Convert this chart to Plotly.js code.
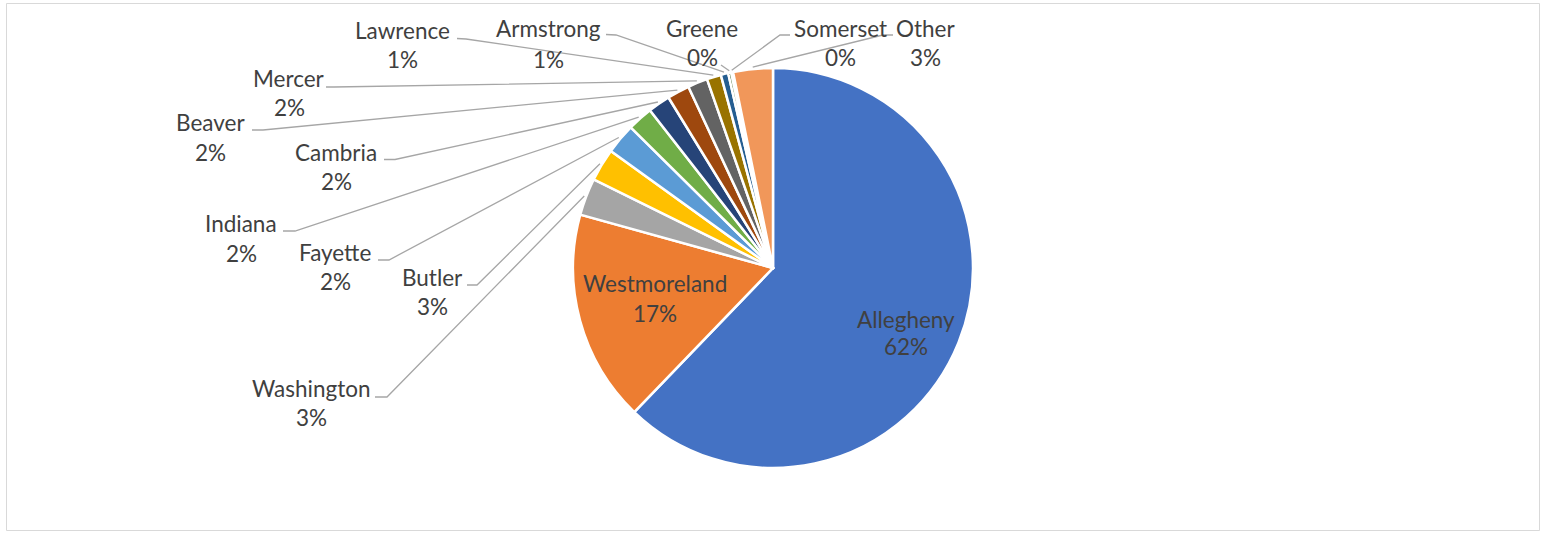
<!DOCTYPE html>
<html><head><meta charset="utf-8">
<script src="https://cdn.plot.ly/plotly-3.0.1.min.js"></script>
<style>html,body{margin:0;padding:0;background:#fff}#chart{width:1546px;height:533px}</style>
</head><body><div id="chart"></div>
<script>
// ---- data ----
const counties = ["Allegheny","Westmoreland","Washington","Butler","Fayette","Indiana","Cambria","Beaver","Mercer","Lawrence","Armstrong","Greene","Somerset","Other"];
const shares = [62.2, 17.1, 3.0, 2.65, 2.45, 2.05, 1.8, 1.8, 1.6, 1.15, 0.6, 0.25, 0.15, 3.2];
const sliceColors = ["#4472C4","#ED7D31","#A5A5A5","#FFC000","#5B9BD5","#70AD47","#264478","#9E480E","#636363","#997300","#255E91","#43682B","#698ED0","#F1975A"];

// ---- layout (pixels) ----
const W = 1546, H = 533;
const CX = 773, CY = 268, R = 200;
// label text centres: [x, nameY, pctY]; leader: points from label to slice
const labelPos = {
  Allegheny:    {x: 906, ny: 319, py: 346, inside: true},
  Westmoreland: {x: 655, ny: 283, py: 313, inside: true},
  Washington:   {x: 311, ny: 388, py: 417, lead: [[375,397],[387,397]]},
  Butler:       {x: 432, ny: 277, py: 306, lead: [[467,285],[477,285]]},
  Fayette:      {x: 335, ny: 252, py: 281, lead: [[378,260],[389,260]]},
  Indiana:      {x: 241, ny: 223, py: 253, lead: [[283,231],[295,231]]},
  Cambria:      {x: 336, ny: 152, py: 181, lead: [[384,159.5],[395,159.5]]},
  Beaver:       {x: 211, ny: 122, py: 152, lead: [[252,130],[263,130]]},
  Mercer:       {x: 289, ny: 79,  py: 108, lead: [[326,87],[334,87]]},
  Lawrence:     {x: 403, ny: 30,  py: 60,  lead: [[457,38.5],[466,39]]},
  Armstrong:    {x: 548, ny: 29,  py: 59,  lead: [[606,34.5],[616,35]]},
  Greene:       {x: 702, ny: 29,  py: 58,  lead: [[721,65]]},
  Somerset:     {x: 840, ny: 29,  py: 58,  lead: [[790,35],[780,35]]},
  Other:        {x: 925, ny: 29,  py: 58,  lead: [[893,35],[883,35]]}
};

const px = x => x / W;
const py = y => 1 - y / H;
const textFont = {family: "Lato, 'Open Sans', sans-serif", size: 22.5, color: "#404040"};

const total = shares.reduce((a, b) => a + b, 0);
const annotations = [];
const shapes = [{
  type: "rect", xref: "paper", yref: "paper",
  x0: px(6.5), x1: px(1539.5), y0: py(530.5), y1: py(3.5),
  line: {color: "#D9D9D9", width: 1}
}];

let cum = 0;
counties.forEach((name, i) => {
  const frac = shares[i] / total;
  const mid = (cum + frac / 2) * 2 * Math.PI;
  cum += frac;
  const pos = labelPos[name];
  const pct = Math.round(frac * 100) + "%";
  annotations.push({xref: "paper", yref: "paper", x: px(pos.x), y: py(pos.ny), text: name,
    showarrow: false, xanchor: "center", yanchor: "middle", font: textFont});
  annotations.push({xref: "paper", yref: "paper", x: px(pos.x), y: py(pos.py), text: pct,
    showarrow: false, xanchor: "center", yanchor: "middle", font: textFont});
  if (!pos.inside) {
    const ex = CX + (R + 2) * Math.sin(mid);
    const ey = CY - (R + 2) * Math.cos(mid);
    const pts = pos.lead.concat([[ex, ey]]);
    const path = pts.map((p, k) => (k ? "L" : "M") + px(p[0]).toFixed(5) + "," + py(p[1]).toFixed(5)).join(" ");
    shapes.push({type: "path", xref: "paper", yref: "paper", path: path,
      line: {color: "#A6A6A6", width: 1.3}});
  }
});

const trace = {
  type: "pie",
  labels: counties,
  values: shares,
  sort: false,
  direction: "clockwise",
  rotation: 0,
  textinfo: "none",
  hoverinfo: "skip",
  marker: {colors: sliceColors, line: {color: "#FFFFFF", width: 2.5}},
  domain: {x: [px(CX - R), px(CX + R)], y: [py(CY + R), py(CY - R)]},
  showlegend: false
};

Plotly.newPlot("chart", [trace], {
  width: W, height: H,
  margin: {l: 0, r: 0, t: 0, b: 0},
  paper_bgcolor: "#FFFFFF",
  showlegend: false,
  annotations: annotations,
  shapes: shapes
}, {staticPlot: true, displayModeBar: false});
</script></body></html>
